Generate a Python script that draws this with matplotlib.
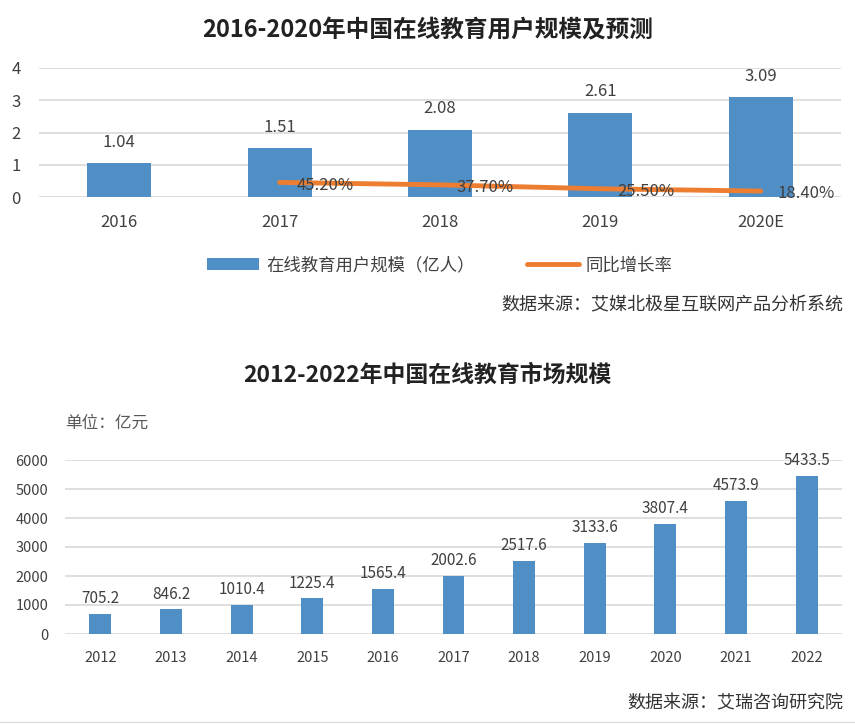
import matplotlib
matplotlib.use("Agg")
import matplotlib.pyplot as plt
import numpy as np

plt.rcParams['font.family'] = ['Noto Sans CJK SC', 'DejaVu Sans']

# top chart data
user_years = ["2016", "2017", "2018", "2019", "2020E"]
users = [1.04, 1.51, 2.08, 2.61, 3.09]
growth_years = ["2017", "2018", "2019", "2020E"]
growth = [0.452, 0.377, 0.255, 0.184]
growth_labels = ["45.20%", "37.70%", "25.50%", "18.40%"]

# bottom chart data
market_years = ["2012", "2013", "2014", "2015", "2016", "2017",
                "2018", "2019", "2020", "2021", "2022"]
market = [705.2, 846.2, 1010.4, 1225.4, 1565.4, 2002.6,
          2517.6, 3133.6, 3807.4, 4573.9, 5433.5]

BLUE = "#4f8fc6"
ORANGE = "#ed7d31"
GRID = "#d9d9d9"
TXT = "#404040"

W, H = 855, 724
fig = plt.figure(figsize=(W / 100, H / 100), dpi=100)


def px_axes(x0, x1, ytop, ybot):
    return fig.add_axes([x0 / W, 1 - ybot / H, (x1 - x0) / W, (ybot - ytop) / H])


def style(ax, ymax, step, fs):
    for s in ax.spines.values():
        s.set_visible(False)
    ax.set_ylim(0, ymax)
    ax.set_yticks(np.arange(0, ymax + step / 2, step))
    ax.yaxis.grid(True, color=GRID, lw=1.2)
    ax.set_axisbelow(True)
    ax.tick_params(length=0, labelsize=fs, colors=TXT)
    ax.tick_params(axis="x", pad=12)


# ---- top chart ----
ax1 = px_axes(39, 841, 68, 197)
x1 = np.arange(len(user_years))
bars = ax1.bar(x1, users, width=0.4, color=BLUE, label="在线教育用户规模（亿人）")
ax1.set_xlim(-0.5, len(user_years) - 0.5)
style(ax1, 4, 1, 12)
ax1.tick_params(axis="y", pad=13)
ax1.set_xticks(x1, user_years)
for xi, v in zip(x1, users):
    ax1.annotate(f"{v:.2f}", (xi, v), xytext=(0, 9), textcoords="offset points",
                 ha="center", va="bottom", fontsize=12, color=TXT)
gx = [user_years.index(y) for y in growth_years]
line, = ax1.plot(gx, growth, color=ORANGE, lw=3.5, solid_capstyle="round", label="同比增长率")
for xi, v, t in zip(gx, growth, growth_labels):
    ax1.annotate(t, (xi, v), xytext=(12, -2), textcoords="offset points",
                 ha="left", va="center", fontsize=12, color=TXT)
ax1.legend(handles=[bars, line], loc="upper center", bbox_to_anchor=(0.5, -0.34),
           ncol=2, frameon=False, fontsize=12.5, labelcolor=TXT, handlelength=3,
           columnspacing=3, handletextpad=0.4)

fig.text(0.5, 1 - 30 / H, "2016-2020年中国在线教育用户规模及预测", ha="center", va="center",
         fontsize=17, fontweight="bold", color="#222222")
fig.text(843 / W, 1 - 305 / H, "数据来源：艾媒北极星互联网产品分析系统", ha="right",
         va="center", fontsize=13, color="#333333")

# ---- bottom chart ----
ax2 = px_axes(65, 842, 460, 634)
x2 = np.arange(len(market_years))
ax2.bar(x2, market, width=0.31, color=BLUE)
ax2.set_xlim(-0.5, len(market_years) - 0.5)
style(ax2, 6000, 1000, 10.5)
ax2.tick_params(axis="y", pad=12)
ax2.set_xticks(x2, market_years)
for xi, v in zip(x2, market):
    ax2.annotate(f"{v:.1f}", (xi, v), xytext=(0, 5), textcoords="offset points",
                 ha="center", va="bottom", fontsize=11, color=TXT)

fig.text(0.5, 1 - 375 / H, "2012-2022年中国在线教育市场规模", ha="center", va="center",
         fontsize=16.5, fontweight="bold", color="#222222")
fig.text(65 / W, 1 - 423 / H, "单位：亿元", ha="left", va="center",
         fontsize=12, color="#595959")
fig.text(843 / W, 1 - 703 / H, "数据来源：艾瑞咨询研究院", ha="right",
         va="center", fontsize=13, color="#333333")
fig.add_artist(plt.Line2D([0, 1], [1 - 722 / H] * 2, color="#e0e0e0", lw=1))

fig.savefig("out.png", dpi=100)
